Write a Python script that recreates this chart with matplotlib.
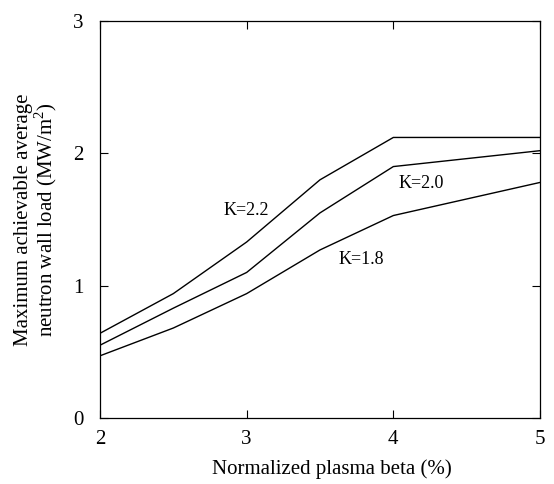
import matplotlib
import matplotlib.pyplot as plt

matplotlib.use('Agg')
plt.rcParams["font.family"] = "Liberation Serif"
plt.rcParams["mathtext.fontset"] = "custom"
plt.rcParams["mathtext.rm"] = "Liberation Serif"

# data
beta = [2.0, 2.5, 3.0, 3.5, 4.0, 5.0]
load_k22 = [0.64, 0.94, 1.33, 1.80, 2.12, 2.12]
load_k20 = [0.55, 0.83, 1.10, 1.55, 1.90, 2.02]
load_k18 = [0.47, 0.68, 0.94, 1.27, 1.53, 1.78]
labels = ["K=2.2", "K=2.0", "K=1.8"]

fig = plt.figure(figsize=(5.54, 4.84), dpi=100)
ax = fig.add_axes([100/554, 66/484, 440/554, 397/484])

for y in (load_k22, load_k20, load_k18):
    ax.plot(beta, y, color='black', lw=1.0)

ax.text(3.0, 1.57, labels[0], fontsize=13, ha='center', va='center')
ax.text(4.19, 1.77, labels[1], fontsize=13, ha='center', va='center')
ax.text(3.78, 1.20, labels[2], fontsize=13, ha='center', va='center')

ax.set_xlim(2, 5)
ax.set_ylim(0, 3)
ax.set_xticks([2, 3, 4, 5])
ax.set_yticks([0, 1, 2, 3])
ax.tick_params(direction='in', length=6, width=0.8, labelsize=15,
               top=True, right=True)
ax.tick_params(axis='x', pad=9)
ax.tick_params(axis='y', pad=12)
for s in ax.spines.values():
    s.set_linewidth(0.9)

ax.set_xlabel("Normalized plasma beta (%)", fontsize=15)
ax.xaxis.set_label_coords(0.527, -0.105)
ax.set_ylabel("Maximum achievable average\nneutron wall load (MW/m$^2$)",
              fontsize=15, linespacing=0.95)
ax.yaxis.set_label_coords(-0.093, 0.5)

plt.savefig("out.png", dpi=100)
